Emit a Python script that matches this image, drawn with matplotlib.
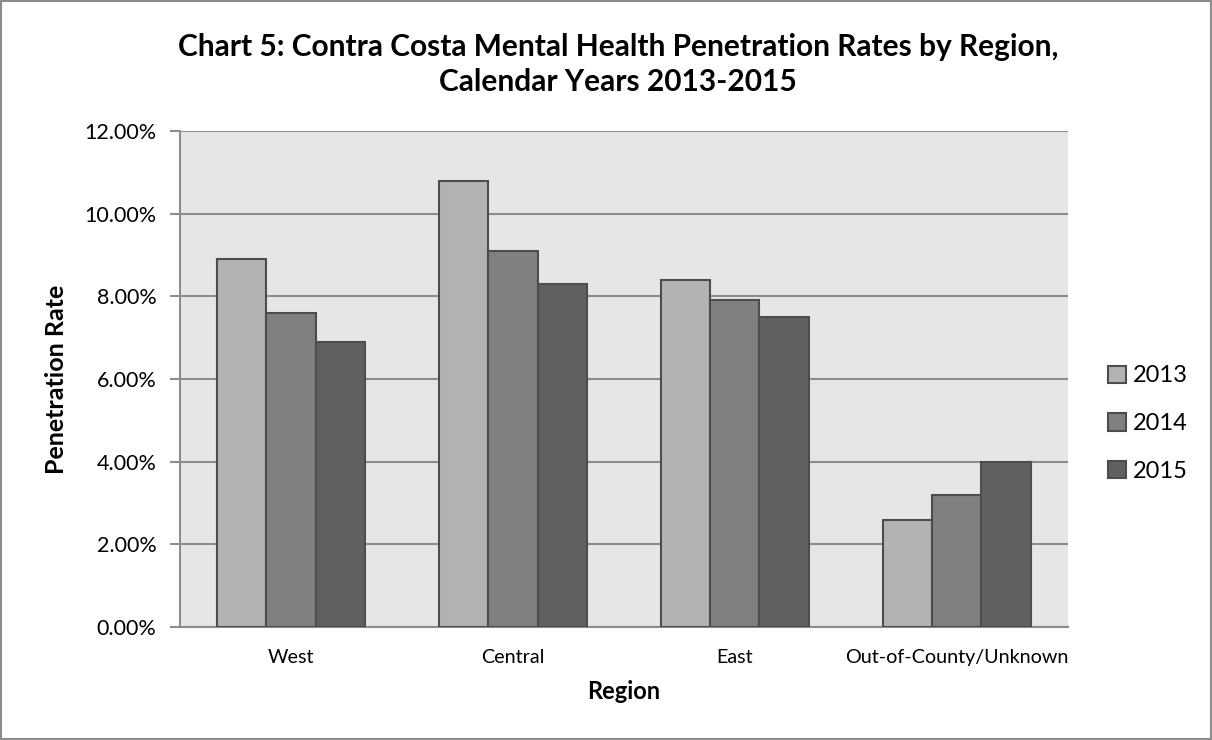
import matplotlib.pyplot as plt
import numpy as np
from matplotlib.patches import Rectangle
from matplotlib.ticker import FuncFormatter

plt.rcParams['font.family'] = ['Lato', 'DejaVu Sans']

regions = ['West', 'Central', 'East', 'Out-of-County/Unknown']
years = ['2013', '2014', '2015']
rates_2013 = [8.9, 10.8, 8.4, 2.6]
rates_2014 = [7.6, 9.1, 7.9, 3.2]
rates_2015 = [6.9, 8.3, 7.5, 4.0]
colors = ['#b3b3b3', '#808080', '#606060']

fig = plt.figure(figsize=(12.12, 7.4), dpi=100)
ax = fig.add_axes([0.1485, 0.1527, 0.7325, 0.6703])
ax.set_facecolor('#e6e6e6')

x = np.arange(len(regions))
w = 0.222
for i, (vals, c, lab) in enumerate(zip([rates_2013, rates_2014, rates_2015], colors, years)):
    ax.bar(x + (i - 1) * w, vals, width=w, color=c, edgecolor='#4d4d4d',
           linewidth=1.5, label=lab, zorder=3)

ax.set_xlim(-0.5, len(regions) - 0.5)
ax.set_ylim(0, 12)
ax.set_yticks(np.arange(0, 12.1, 2))
ax.yaxis.set_major_formatter(FuncFormatter(lambda v, p: f'{v:.2f}%'))
ax.grid(axis='y', color='#8c8c8c', linewidth=1.5, zorder=1)
ax.set_xticks(x)
ax.set_xticklabels(regions, fontsize=14.2)
ax.tick_params(axis='x', length=0, pad=16)
ax.tick_params(axis='y', length=7, width=1.5, color='#8c8c8c', labelsize=15.5, pad=10)
for s in ['top', 'right']:
    ax.spines[s].set_visible(False)
ax.spines['left'].set_color('#8c8c8c')
ax.spines['left'].set_linewidth(1.5)
ax.spines['bottom'].set_color('#8c8c8c')
ax.spines['bottom'].set_linewidth(1.5)

ax.set_xlabel('Region', fontsize=17, fontweight='bold', labelpad=10)
ax.set_ylabel('Penetration Rate', fontsize=18, fontweight='bold', labelpad=12)

fig.text(0.51, 0.913, 'Chart 5: Contra Costa Mental Health Penetration Rates by Region,\nCalendar Years 2013-2015',
         ha='center', va='center', fontsize=21.5, fontweight='bold', linespacing=1.3)

leg = ax.legend(loc='center left', bbox_to_anchor=(1.035, 0.41), frameon=False,
                fontsize=17, handlelength=0.75, handleheight=0.75, handletextpad=0.3,
                labelspacing=1.13, borderaxespad=0)

fig.patches.append(Rectangle((0.001, 0.001), 0.998, 0.998, transform=fig.transFigure,
                             fill=False, edgecolor='#8c8c8c', linewidth=1.5))

fig.savefig('out.png', dpi=100)
